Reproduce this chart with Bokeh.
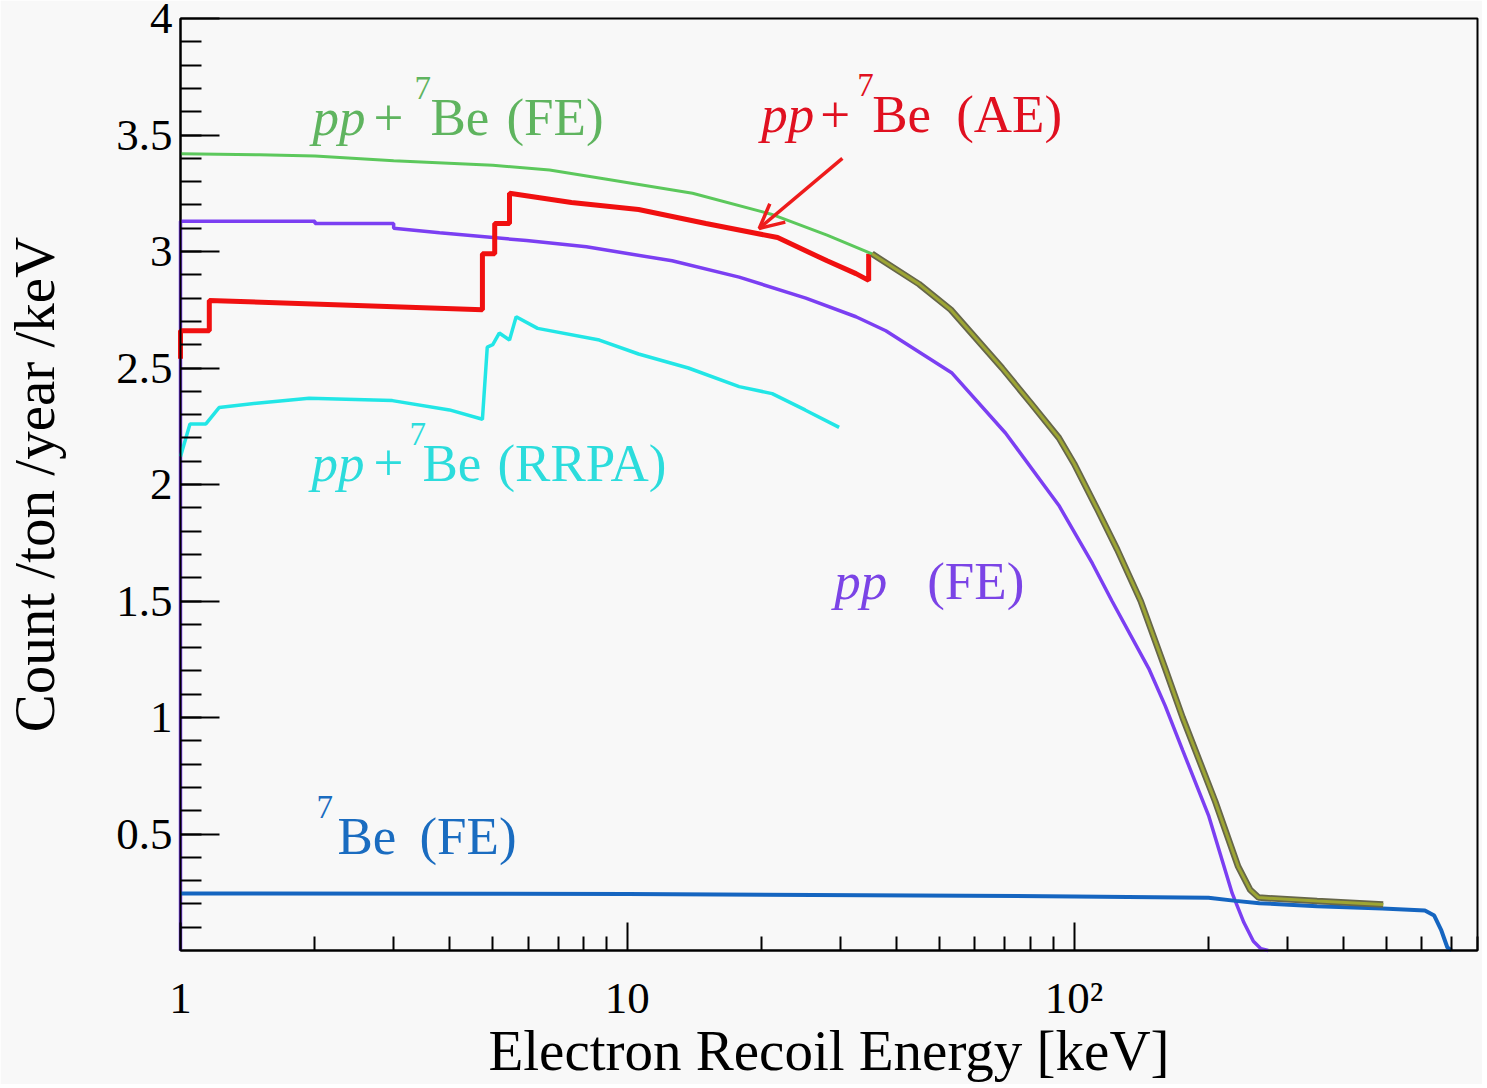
import numpy as np
from bokeh.plotting import figure
from bokeh.models import FixedTicker, CustomJSTickFormatter, Arrow, OpenHead, Range1d
from bokeh.core.properties import value
from bokeh.embed import file_html
from bokeh.resources import INLINE

# ---------------- data ----------------
# pp+7Be (FE)
fe_tot_E = [1, 1.5, 2, 3, 5, 6.7, 9, 14, 21, 28, 35.3, 45, 53, 69, 80, 92.5, 100, 113, 125, 141, 160, 175, 207, 233, 248, 259, 350, 492]
fe_tot_y = [3.42, 3.415, 3.41, 3.39, 3.37, 3.35, 3.31, 3.25, 3.16, 3.07, 2.99, 2.86, 2.75, 2.50, 2.35, 2.20, 2.09, 1.89, 1.72, 1.50, 1.21, 1.00, 0.64, 0.36, 0.26, 0.227, 0.212, 0.197]
olive_from_E = 35.3

# pp (FE)
pp_E = [1, 1, 2.0, 2.0, 3.0, 3.0, 3.8, 5.95, 8.1, 12.6, 17.8, 25.1, 32.5, 37.9, 53.2, 70.3, 92.5, 110, 121.6, 147, 160, 175, 200, 226, 240, 252, 262, 272]
pp_y = [0, 3.13, 3.13, 3.12, 3.12, 3.10, 3.08, 3.047, 3.02, 2.96, 2.89, 2.80, 2.72, 2.66, 2.48, 2.22, 1.91, 1.66, 1.50, 1.21, 1.05, 0.86, 0.58, 0.245, 0.12, 0.04, 0.008, 0.0]

# pp+7Be (AE)
ae_E = [1, 1, 1.16, 1.16, 4.74, 4.74, 5.05, 5.05, 5.45, 5.45, 7.5, 10.6, 15, 21.7, 28, 32.5, 34.7, 34.7]
ae_y = [2.54, 2.66, 2.66, 2.79, 2.75, 2.99, 2.99, 3.12, 3.12, 3.25, 3.21, 3.18, 3.12, 3.06, 2.96, 2.905, 2.876, 2.99]

# pp+7Be (RRPA)
rrpa_E = [1, 1.05, 1.14, 1.22, 1.5, 1.94, 2.98, 4.0, 4.74, 4.86, 5.0, 5.17, 5.45, 5.64, 6.3, 8.66, 10.6, 13.7, 17.8, 21.1, 25, 29.8]
rrpa_y = [2.12, 2.26, 2.26, 2.33, 2.35, 2.37, 2.36, 2.32, 2.28, 2.59, 2.60, 2.65, 2.62, 2.72, 2.67, 2.62, 2.56, 2.50, 2.42, 2.39, 2.32, 2.245]

# 7Be (FE)
be_E = [1, 10, 100, 200, 230, 260, 350, 490, 610, 640, 664, 685, 700]
be_y = [0.245, 0.243, 0.232, 0.226, 0.213, 0.203, 0.19, 0.18, 0.172, 0.15, 0.086, 0.013, 0.0]

y_ticks = [0.5, 1, 1.5, 2, 2.5, 3, 3.5, 4]
y_minor = [round(0.1 * i, 1) for i in range(1, 40)]
x_ticks = [1, 10, 100]
x_minor = [2, 3, 4, 5, 6, 7, 8, 9, 20, 30, 40, 50, 60, 70, 80, 90, 200, 300, 400, 500, 600, 700, 800]

FONT = "Liberation Serif"
BG = "#f8f8f8"

p = figure(frame_width=1297, frame_height=932, x_axis_type="log",
           x_range=Range1d(1, 800), y_range=Range1d(0, 4),
           output_backend="svg", toolbar_location=None,
           min_border_left=177, min_border_right=5, min_border_top=18, min_border_bottom=10,
           background_fill_color=BG, border_fill_color=BG)
p.xgrid.visible = False
p.ygrid.visible = False
p.outline_line_color = "black"
p.outline_line_width = 2

# axes
xa = p.xaxis[0]
xa.ticker = FixedTicker(ticks=x_ticks, minor_ticks=x_minor)
xa.formatter = CustomJSTickFormatter(code="return tick == 100 ? '10\u00b2' : tick.toString();")
xa.major_tick_in = 28; xa.major_tick_out = 0
xa.minor_tick_in = 14; xa.minor_tick_out = 0
xa.axis_label = "Electron Recoil Energy [keV]"

ya = p.yaxis[0]
ya.ticker = FixedTicker(ticks=y_ticks, minor_ticks=y_minor)
ya.formatter = CustomJSTickFormatter(code="return tick.toString();")
ya.major_tick_in = 39; ya.major_tick_out = 0
ya.minor_tick_in = 21; ya.minor_tick_out = 0
ya.axis_label = "Count /ton /year /keV"

for ax in (xa, ya):
    ax.axis_line_width = 2
    ax.axis_line_color = "black"
    ax.major_tick_line_width = 2
    ax.minor_tick_line_width = 2
    ax.major_label_text_font = FONT
    ax.major_label_text_font_size = "45px"
    ax.major_label_text_color = "black"
    ax.axis_label_text_font = FONT
    ax.axis_label_text_font_size = "57px"
    ax.axis_label_text_font_style = "normal"
    ax.axis_label_text_color = "black"
xa.major_label_standoff = 22
xa.axis_label_standoff = -7
ya.major_label_standoff = 8
ya.axis_label_standoff = 47

# curves (drawn above the axis lines, like the reference)
lk = dict(level="guide")
p.line(pp_E, pp_y, line_color="#7b3ff2", line_width=3.5, **lk)
p.line(be_E, be_y, line_color="#1565c0", line_width=4, **lk)
p.line(rrpa_E, rrpa_y, line_color="#22e6e6", line_width=3.5, **lk)
p.line(ae_E, ae_y, line_color="#f01010", line_width=5, **lk)
p.line(fe_tot_E, fe_tot_y, line_color="#5cc85c", line_width=3, **lk)
fe_arr_E = np.array(fe_tot_E)
fe_arr_y = np.array(fe_tot_y)
mask = fe_arr_E >= olive_from_E
p.line(fe_arr_E[mask], fe_arr_y[mask], line_color="#66664a", line_width=6.5, **lk)
p.line(fe_arr_E[mask], fe_arr_y[mask], line_color="#9da534", line_width=3, **lk)

# labels
DY = -21
def label(E, yv, color, parts):
    for t, dx, dy, sz, st in parts:
        p.text(x=[E], y=[yv], text=[t], x_offset=dx, y_offset=dy + DY,
               text_font=value(FONT), text_font_size=f"{sz}px", text_font_style=st,
               text_color=color, text_baseline="alphabetic", text_align="left")

def combo(suffix, offs):
    return [("pp", offs[0], 0, 53, "italic"), ("+", offs[1], 0, 53, "normal"),
            ("7", offs[2], -29, 33, "normal"), ("Be", offs[3], 0, 53, "normal"),
            (suffix, offs[4], 0, 53, "normal")]

label(1.974, 3.485, "#5fb45f", combo("(FE)", [0, 61, 102, 118, 194]))
label(19.94, 3.498, "#e01020", combo("(AE)", [0, 59, 96, 111, 195]))
label(1.964, 2.004, "#2cdcdc", combo("(RRPA)", [0, 62, 98, 111, 186]))
label(29.05, 1.494, "#7b44e6", [("pp", 0, 0, 53, "italic"), ("(FE)", 93, 0, 53, "normal")])
label(2.015, 0.403, "#1a6cc0", [("7", 0, -29, 33, "normal"), ("Be", 21, 0, 53, "normal"),
                                 ("(FE)", 103, 0, 53, "normal")])

p.add_layout(Arrow(end=OpenHead(size=24, line_color="#ee1c1c", line_width=3.5),
                   x_start=30.3, y_start=3.40, x_end=19.74, y_end=3.099,
                   line_color="#ee1c1c", line_width=3.5))

open("out.html", "w").write(file_html(p, INLINE))
